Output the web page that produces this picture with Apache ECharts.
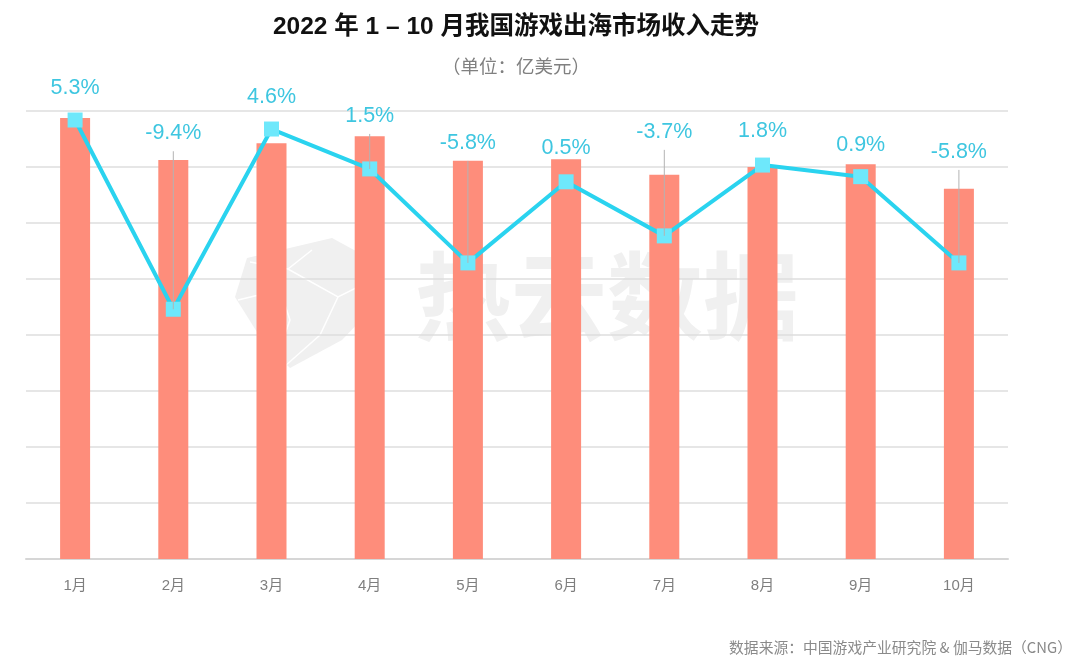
<!DOCTYPE html>
<html>
<head>
<meta charset="utf-8">
<script src="https://cdn.jsdelivr.net/npm/echarts@6/dist/echarts.min.js"></script>
<style>
html,body{margin:0;padding:0;background:#fff;}
#main{width:1080px;height:664px;}
</style>
</head>
<body>
<div id="main"></div>
<script>
// ---- data ----
const months = ['1月','2月','3月','4月','5月','6月','7月','8月','9月','10月'];
const revenue = [15.75, 14.25, 14.85, 15.10, 14.22, 14.28, 13.72, 14.00, 14.10, 13.22]; // 亿美元 (estimated)
const growth = [5.3, -9.4, 4.6, 1.5, -5.8, 0.5, -3.7, 1.8, 0.9, -5.8]; // 环比 %
// label lift above each point (layout only, px)
const labelLift = [32, 176, 32, 53, 120, 34, 104, 34, 32, 111];

const FONT = '"Liberation Sans", "Noto Sans CJK SC", sans-serif';

const chart = echarts.init(document.getElementById('main'));

const option = {
  backgroundColor: '#ffffff',
  animation: false,
  grid: { left: 26, right: 72, top: 111, bottom: 105, containLabel: false },
  xAxis: {
    type: 'category',
    data: months,
    axisLine: { lineStyle: { color: '#d6d6d6', width: 2 } },
    axisTick: { show: false },
    axisLabel: { color: '#7f7f7f', fontSize: 15, margin: 19, fontFamily: FONT }
  },
  yAxis: [
    {
      type: 'value', min: 0, max: 16, interval: 2,
      axisLabel: { show: false }, axisLine: { show: false }, axisTick: { show: false },
      splitLine: { lineStyle: { color: '#dedede', width: 1.5 } }
    },
    {
      type: 'value', min: -28.8, max: 6, show: false,
      splitLine: { show: false }
    }
  ],
  series: [
    {
      type: 'bar',
      data: revenue,
      barWidth: 30,
      itemStyle: { color: '#FE8D7B' },
      z: 2
    },
    {
      type: 'line',
      yAxisIndex: 1,
      data: growth,
      symbol: 'rect',
      symbolSize: 15,
      itemStyle: { color: '#6EE8FB' },
      lineStyle: { color: '#2AD3EF', width: 4 },
      z: 3
    },
    {
      type: 'custom',
      yAxisIndex: 1,
      z: 4,
      silent: true,
      data: growth.map((v, i) => [i, v]),
      encode: { x: 0, y: 1 },
      renderItem: function (params, api) {
        const i = params.dataIndex;
        const v = api.value(1);
        const pt = api.coord([api.value(0), v]);
        const lift = labelLift[i];
        const children = [];
        if (lift > 45) {
          children.push({
            type: 'line',
            shape: { x1: pt[0], y1: pt[1] - lift + 18, x2: pt[0], y2: pt[1] },
            style: { stroke: '#b3b3b3', lineWidth: 1 }
          });
        }
        children.push({
          type: 'text',
          style: {
            x: pt[0], y: pt[1] - lift,
            text: v.toFixed(1) + '%',
            font: '21.5px ' + FONT,
            fill: '#3EC6E0',
            textAlign: 'center', textVerticalAlign: 'middle'
          }
        });
        return { type: 'group', children: children };
      }
    }
  ],
  graphic: [
    {
      type: 'text', z: 10,
      style: {
        x: 516, y: 27, text: '2022 年 1 – 10 月我国游戏出海市场收入走势',
        font: 'bold 24.5px "Liberation Sans", "Noto Sans CJK SC", sans-serif',
        fill: '#111111', textAlign: 'center', textVerticalAlign: 'middle'
      }
    },
    {
      type: 'text', z: 10,
      style: {
        x: 516, y: 66, text: '（单位：亿美元）',
        font: '18.5px "Noto Sans CJK SC", sans-serif',
        fill: '#808080', textAlign: 'center', textVerticalAlign: 'middle'
      }
    },
    {
      type: 'text', z: 10,
      style: {
        x: 1072, y: 647, text: '数据来源：中国游戏产业研究院 & 伽马数据（CNG）',
        font: '14.8px "Noto Sans CJK SC", sans-serif',
        fill: '#8a8a8a', textAlign: 'right', textVerticalAlign: 'middle'
      }
    },
    // watermark logo
    {
      type: 'polygon', z: -5,
      shape: { points: [[332,238],[376,262],[380,300],[342,340],[290,368],[262,340],[235,297],[247,258]] },
      style: { fill: '#f0f0f0' }
    },
    {
      type: 'polyline', z: -4,
      shape: { points: [[250,262],[288,269],[338,297],[380,276]] },
      style: { stroke: '#ffffff', lineWidth: 1.5, fill: null }
    },
    {
      type: 'polyline', z: -4,
      shape: { points: [[288,269],[312,250]] },
      style: { stroke: '#ffffff', lineWidth: 1.5, fill: null }
    },
    {
      type: 'polyline', z: -4,
      shape: { points: [[238,300],[280,290],[290,320],[275,362]] },
      style: { stroke: '#ffffff', lineWidth: 1.5, fill: null }
    },
    {
      type: 'polyline', z: -4,
      shape: { points: [[338,297],[320,335],[285,366]] },
      style: { stroke: '#ffffff', lineWidth: 1.5, fill: null }
    },
    {
      type: 'text', z: -5,
      style: {
        x: 607, y: 296, text: '热云数据',
        font: 'bold 96px "Noto Sans CJK SC", sans-serif',
        fill: '#f0f0f0', textAlign: 'center', textVerticalAlign: 'middle'
      }
    }
  ]
};

chart.setOption(option);
</script>
</body>
</html>
